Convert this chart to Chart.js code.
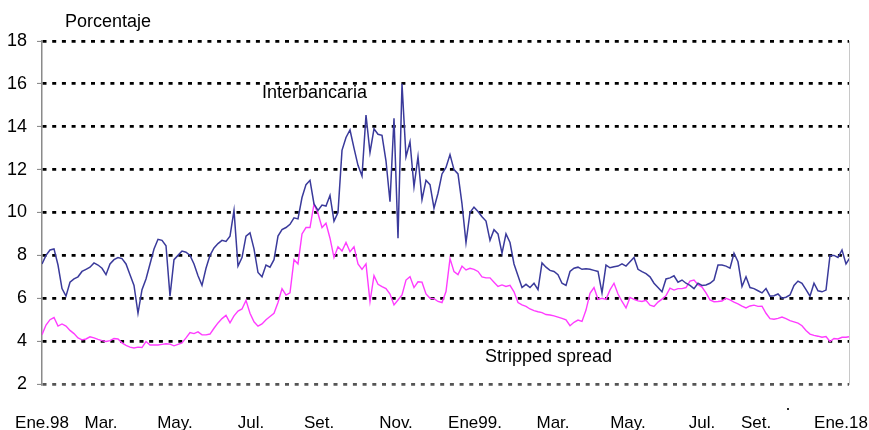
<!DOCTYPE html>
<html>
<head>
<meta charset="utf-8">
<script src="https://cdn.jsdelivr.net/npm/chart.js@4.4.1/dist/chart.umd.min.js"></script>
<style>
    html, body { margin: 0; padding: 0; background: #fff; }
    #contenedor { width: 869px; height: 430px; }
</style>
</head>
<body>
<div id="contenedor"><canvas id="graficoTasas"></canvas></div>
<script>
// Tasa interbancaria (%), una lectura por paso de tiempo
const interbancaria = [
    7.6, 8.0, 8.25, 8.3, 7.55, 6.45, 6.1, 6.75, 6.9, 7.0,
    7.25, 7.35, 7.45, 7.65, 7.55, 7.4, 7.1, 7.6, 7.8, 7.9,
    7.85, 7.6, 7.1, 6.6, 5.3, 6.4, 6.9, 7.6, 8.3, 8.75,
    8.7, 8.45, 6.1, 7.8, 8.0, 8.2, 8.15, 8.0, 7.6, 7.05,
    6.6, 7.4, 8.0, 8.35, 8.55, 8.7, 8.65, 8.9, 10.1, 7.5,
    7.9, 8.9, 9.05, 8.3, 7.2, 7.0, 7.55, 7.45, 7.8, 8.9,
    9.2, 9.3, 9.45, 9.75, 9.7, 10.7, 11.3, 11.5, 10.4, 10.1,
    10.35, 10.3, 10.8, 9.6, 10.0, 12.9, 13.5, 13.85, 13.0, 12.2,
    11.7, 14.55, 12.8, 13.9, 13.65, 13.6, 12.4, 10.5, 14.4, 8.8,
    16.0, 12.6, 13.3, 11.2, 12.6, 10.6, 11.5, 11.3, 10.2, 10.9,
    11.8, 12.1, 12.7, 12.0, 11.8, 10.4, 8.6, 10.0, 10.25, 10.05,
    9.8, 9.6, 8.7, 9.2, 9.0, 8.1, 9.0, 8.6, 7.6, 7.05,
    6.5, 6.65, 6.5, 6.7, 6.4, 7.65, 7.45, 7.3, 7.25, 7.1,
    6.7, 6.6, 7.25, 7.4, 7.45, 7.35, 7.38, 7.35, 7.3, 7.25,
    6.25, 7.55, 7.42, 7.47, 7.5, 7.6, 7.5, 7.7, 7.9, 7.35,
    7.24, 7.15, 7.0, 6.7, 6.5, 6.3, 6.9, 6.95, 7.05, 6.75,
    6.85, 6.7, 6.6, 6.45, 6.7, 6.6, 6.62, 6.7, 6.85, 7.55,
    7.55, 7.5, 7.4, 8.1, 7.7, 6.55, 7.0, 6.5, 6.45, 6.35,
    6.25, 6.45, 6.1, 6.12, 6.2, 6.0, 6.05, 6.15, 6.6, 6.8,
    6.7, 6.4, 6.1, 6.7, 6.35, 6.3, 6.38, 8.0, 8.0, 7.9,
    8.25, 7.6, 7.9
];

// Stripped spread (%)
const strippedSpread = [
    4.3, 4.75, 5.0, 5.1, 4.7, 4.8, 4.7, 4.5, 4.35, 4.15,
    4.06, 4.1, 4.2, 4.15, 4.08, 4.02, 3.98, 4.02, 4.12, 4.1,
    3.92, 3.8, 3.72, 3.68, 3.72, 3.7, 3.98, 3.82, 3.82, 3.82,
    3.85, 3.88, 3.86, 3.78, 3.85, 3.92, 4.15, 4.4, 4.35, 4.43,
    4.29, 4.29, 4.33, 4.6, 4.85, 5.05, 5.2, 4.85, 5.18, 5.4,
    5.5, 5.9, 5.3, 4.9, 4.7, 4.8, 5.0, 5.15, 5.3, 5.8,
    6.45, 6.15, 6.25, 7.8, 7.6, 9.0, 9.3, 9.3, 10.4, 9.95,
    9.3, 9.5, 8.8, 7.9, 8.4, 8.2, 8.6, 8.17, 8.4, 7.6,
    7.35, 7.6, 5.84, 7.05, 6.65, 6.54, 6.45, 6.2, 5.69, 5.92,
    6.15, 6.85, 7.01, 6.5, 6.77, 6.75, 6.2, 6.0, 5.98, 5.85,
    5.8, 6.31, 7.85, 7.24, 7.1, 7.5, 7.32, 7.4, 7.35, 7.25,
    7.0, 6.95, 6.95, 6.75, 6.55, 6.62, 6.55, 6.6, 6.3, 5.8,
    5.69, 5.62, 5.5, 5.42, 5.37, 5.33, 5.24, 5.22, 5.18, 5.12,
    5.06, 4.99, 4.72, 4.88, 4.98, 4.92, 5.45, 6.23, 6.5, 5.95,
    6.0, 5.95, 6.39, 6.7, 6.2, 5.85, 5.55, 6.04, 5.95, 5.88,
    5.85, 5.9, 5.68, 5.62, 5.82, 5.96, 6.12, 6.47, 6.38, 6.45,
    6.45, 6.5, 6.8, 6.85, 6.63, 6.52, 6.25, 5.92, 5.84, 5.85,
    5.87, 6.0, 5.92, 5.82, 5.74, 5.63, 5.55, 5.64, 5.68, 5.62,
    5.63, 5.3, 5.05, 5.02, 5.06, 5.12, 5.05, 4.96, 4.9, 4.84,
    4.72, 4.5, 4.33, 4.27, 4.23, 4.18, 4.21, 3.98, 4.12, 4.1,
    4.18, 4.18, 4.21
];

// Etiquetas de meses y su posición en el eje de tiempo
const etiquetasMes = ['Ene.98', 'Mar.', 'May.', 'Jul.', 'Set.', 'Nov.', 'Ene99.', 'Mar.', 'May.', 'Jul.', 'Set.', 'Ene.18'];
const posicionMes = [0, 14.75, 33.25, 52.25, 69.25, 88.5, 108.25, 127.75, 146.5, 165, 178.5, 199.75];

// Valores del eje vertical
const ticksY = [2, 4, 6, 8, 10, 12, 14, 16, 18];

// Textos dentro del gráfico (en coordenadas de datos)
const textos = [
    { texto: 'Porcentaje', x: 5.75, y: 18.9 },
    { texto: 'Interbancaria', x: 55, y: 15.55 },
    { texto: 'Stripped spread', x: 110.75, y: 3.28 },
    { texto: '.', x: 185.9, y: 1.02 }
];

const fuente = '"Liberation Sans", Arial, sans-serif';

const textosPlugin = {
    id: 'textos',
    afterDraw(chart) {
        const ctx = chart.ctx;
        const sx = chart.scales.x, sy = chart.scales.y;
        ctx.save();
        ctx.font = '18px ' + fuente;
        ctx.fillStyle = '#000';
        ctx.textAlign = 'left';
        ctx.textBaseline = 'middle';
        textos.forEach(function(t) {
            ctx.fillText(t.texto, sx.getPixelForValue(t.x), sy.getPixelForValue(t.y));
        });
        ctx.restore();
    }
};

document.addEventListener("DOMContentLoaded", function() {
    const ctx = document.getElementById('graficoTasas').getContext('2d');
    new Chart(ctx, {
        type: 'line',
        data: {
            datasets: [{
                label: 'Interbancaria',
                data: interbancaria.map(function(v, i) { return { x: i, y: v }; }),
                borderColor: 'rgb(58, 58, 155)',
                borderWidth: 1.5,
                pointRadius: 0,
                tension: 0
            }, {
                label: 'Stripped spread',
                data: strippedSpread.map(function(v, i) { return { x: i, y: v }; }),
                borderColor: 'rgb(255, 60, 255)',
                borderWidth: 1.4,
                pointRadius: 0,
                tension: 0
            }]
        },
        options: {
            responsive: true,
            maintainAspectRatio: false,
            animation: false,
            layout: { padding: { top: 41, right: 20, left: 0, bottom: 0 } },
            plugins: {
                legend: { display: false },
                tooltip: { enabled: false }
            },
            scales: {
                x: {
                    type: 'linear',
                    min: 0,
                    max: 201.75,
                    afterBuildTicks: function(scale) {
                        scale.ticks = posicionMes.map(function(v) { return { value: v }; });
                    },
                    afterFit: function(scale) { scale.height = 46; },
                    ticks: {
                        autoSkip: false,
                        maxRotation: 0,
                        padding: 0,
                        color: '#000',
                        font: { family: fuente, size: 17 },
                        callback: function(value, index) { return etiquetasMes[index]; }
                    },
                    grid: {
                        drawOnChartArea: false,
                        drawTicks: true,
                        tickLength: 29,
                        tickColor: 'rgba(0,0,0,0)'
                    },
                    border: { display: false }
                },
                y: {
                    min: 2,
                    max: 18,
                    afterBuildTicks: function(scale) {
                        scale.ticks = ticksY.map(function(v) { return { value: v }; });
                    },
                    afterFit: function(scale) { scale.width = 42; },
                    ticks: {
                        padding: 10,
                        color: '#000',
                        font: { family: fuente, size: 18 }
                    },
                    grid: {
                        color: function(c) { return c.tick && c.tick.value === 2 ? '#555' : '#000'; },
                        lineWidth: 2.8,
                        drawTicks: true,
                        tickLength: 5,
                        tickColor: '#808080',
                        tickWidth: 1,
                        tickBorderDash: []
                    },
                    border: {
                        display: true,
                        color: '#8a8a8a',
                        width: 1.5,
                        dash: [4, 5.7]
                    }
                },
                yDerecha: {
                    position: 'right',
                    afterFit: function(scale) { scale.width = 0; },
                    ticks: { display: false },
                    grid: { display: false, drawTicks: false },
                    border: { display: true, color: '#c8c8c8', width: 1 }
                }
            }
        },
        plugins: [textosPlugin]
    });
});
</script>
</body>
</html>
